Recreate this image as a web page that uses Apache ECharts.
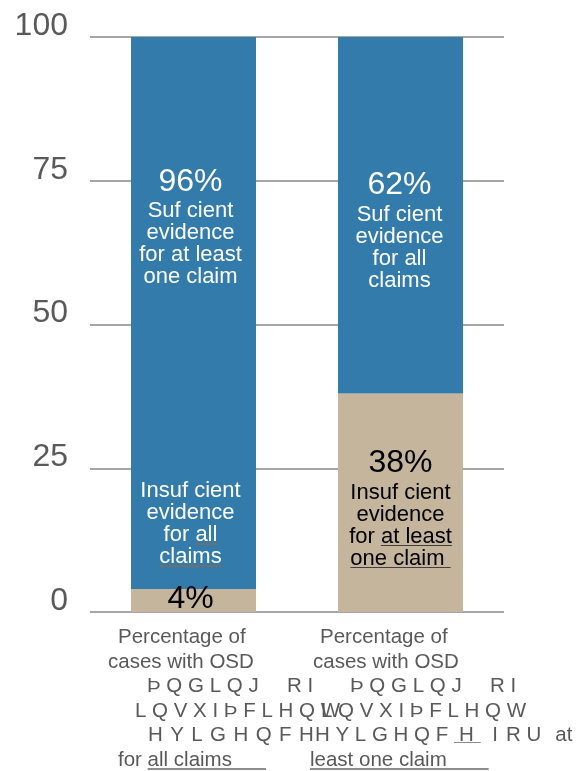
<!DOCTYPE html>
<html>
<head>
<meta charset="utf-8">
<script src="https://cdn.jsdelivr.net/npm/echarts@6/dist/echarts.min.js"></script>
<style>
html,body{margin:0;padding:0;background:#fff;}
#chart{width:582px;height:771px;}
</style>
</head>
<body>
<div id="chart"></div>
<script>
// ---- data ----
const categories = [
  'Percentage of\ncases with OSD\nÞ Q G L Q J     R I\nL Q V X I Þ F L H Q W\nH\u200A Y\u200A L\u200A G\u200A H\u200A Q\u200A F\u200A H\nfor [all claims]',
  'Percentage of\ncases with OSD\nÞ Q G L Q J     R I\nL Q V X I Þ F L H Q W\nH Y L G H Q F {H}  I\u2009\u2009R U \u2009\u2009at\n[least one claim]'
];
const insufficientPct = [4, 38];
const sufficientPct = [96, 62];
const yTicks = [0, 25, 50, 75, 100];
const sufficientText = [
  'Suf cient\nevidence\nfor at least\none claim',
  'Suf cient\nevidence\nfor all\nclaims'
];
const insufficientText = [
  'Insuf cient\nevidence\nfor [all]\n[claims]',
  'Insuf cient\nevidence\nfor [at least]\n[one claim ]'
];

// ---- styling / layout ----
const FONT = '"Liberation Sans", Arial, Helvetica, sans-serif';
const BLUE = '#327BAA';
const TAN = '#C4B59C';
const GRID = '#A6A6A6';
const LH = 24.5;
const xIndent = [[44.5, 34.5, 73.5, 61.5, 74.5, 44.5], [39.5, 32.5, 69.5, 40.5, 34.5, 29.5]];
const ulPad = {'all claims': [0, 34, 0, 0], 'least one claim': [0, 42, 0, 0], 'H': [0, 7, 0, 5]};

function ulGradient(color, a, b) {
  const t = 'rgba(0,0,0,0)';
  return {type: 'linear', x: 0, y: 0, x2: 0, y2: 1, global: false, colorStops: [
    {offset: 0, color: t}, {offset: a, color: t}, {offset: a, color: color},
    {offset: b, color: color}, {offset: b, color: t}, {offset: 1, color: t}
  ]};
}
// [text] = underline below text, {text} = underline at the baseline
function toRich(line, base, ulName, blName) {
  let out = '', last = 0, m;
  const re = /\[([^\]]*)\]|\{([^}]*)\}/g;
  while ((m = re.exec(line))) {
    if (m.index > last) out += '{' + base + '|' + line.slice(last, m.index) + '}';
    const txt = m[1] != null ? m[1] : m[2];
    const which = m[1] != null ? ulName : (blName || ulName);
    const nm = typeof which === 'function' ? which(txt) : which;
    out += '{' + nm + '|' + txt + '}';
    last = re.lastIndex;
  }
  if (last < line.length) out += '{' + base + '|' + line.slice(last) + '}';
  return out;
}

// x-axis rich styles
const xBase = {fontFamily: FONT, fontSize: 20.5, color: '#595959', lineHeight: LH, align: 'left'};
const xRich = {x: xBase};
xIndent.forEach((arr, c) => arr.forEach((v, l) => {
  xRich['s' + c + '_' + l] = {width: v, align: 'left', lineHeight: LH};
}));
const ulKeys = Object.keys(ulPad);
ulKeys.forEach((k, i) => {
  xRich['u' + i] = Object.assign({}, xBase, {
    padding: ulPad[k], height: LH, backgroundColor: ulGradient('#8C8C8C', 0.816, 0.885)
  });
  xRich['b' + i] = Object.assign({}, xBase, {
    padding: ulPad[k], height: LH, backgroundColor: ulGradient('#8C8C8C', 0.745, 0.815)
  });
});

// bar label rich styles
const barRich = {
  w: {fontFamily: FONT, fontSize: 22, color: '#fff', lineHeight: 22},
  wu: {fontFamily: FONT, fontSize: 22, color: '#fff', lineHeight: 22, height: 22,
       backgroundColor: ulGradient('#6E6E6E', 0.87, 0.94)},
  p0: {fontFamily: FONT, fontSize: 32, color: '#fff', lineHeight: 35},
  p1: {fontFamily: FONT, fontSize: 32, color: '#fff', lineHeight: 38},
  k: {fontFamily: FONT, fontSize: 22, color: '#000', lineHeight: 22},
  ku: {fontFamily: FONT, fontSize: 22, color: '#000', lineHeight: 22, height: 22,
       backgroundColor: ulGradient('#404040', 0.87, 0.94)},
  kp0: {fontFamily: FONT, fontSize: 32, color: '#000', lineHeight: 30},
  kp1: {fontFamily: FONT, fontSize: 32, color: '#000', lineHeight: 37},
  gap: {fontFamily: FONT, fontSize: 10, lineHeight: 16}
};

function sufficientLabel(i) {
  return '{p' + i + '|' + sufficientPct[i] + '%}\n' +
    sufficientText[i].split('\n').map(l => toRich(l, 'w', 'wu')).join('\n');
}
function insufficientLabel(i) {
  const txt = insufficientText[i].split('\n').map(l => toRich(l, i === 0 ? 'w' : 'k', i === 0 ? 'wu' : 'ku')).join('\n');
  const num = '{kp' + i + '|' + insufficientPct[i] + '%}';
  return insufficientPct[i] < 10 ? txt + '\n{gap|}\n' + num : num + '\n' + txt;
}

const labelCommon = {show: true, color: '#fff', textBorderWidth: 0, rich: barRich};
const blueLabels = [
  {position: 'insideTop', distance: 128, offset: [-3, 0]},
  {position: 'insideTop', distance: 129, offset: [-1, 0]}
];
const tanLabels = [
  {position: 'insideBottom', distance: -2, offset: [-3, 0]},
  {position: 'insideTop', distance: 51, offset: [0, 0]}
];

const chart = echarts.init(document.getElementById('chart'), null, {renderer: 'canvas'});
chart.setOption({
  animation: false,
  grid: {left: 90, right: 78, top: 37, bottom: 159, containLabel: false, outerBoundsMode: 'none'},
  xAxis: {
    type: 'category',
    data: categories,
    axisLine: {show: false},
    axisTick: {show: false},
    axisLabel: {
      interval: 0,
      margin: 13.5,
      width: 240,
      overflow: 'none',
      lineHeight: LH,
      fontFamily: FONT,
      fontSize: 20.5,
      color: '#595959',
      rich: xRich,
      formatter: (value, idx) => value.split('\n').map((line, l) =>
        '{s' + idx + '_' + l + '|}' +
        toRich(line, 'x', t => 'u' + ulKeys.indexOf(t), t => 'b' + ulKeys.indexOf(t))
      ).join('\n')
    }
  },
  yAxis: {
    type: 'value',
    min: 0, max: 100, interval: 25,
    axisLine: {show: false},
    axisTick: {show: false},
    splitLine: {show: true, lineStyle: {color: GRID, width: 2}},
    axisLabel: {
      margin: 22,
      fontFamily: FONT,
      fontSize: 32,
      color: '#595959',
      lineHeight: 22,
      verticalAlign: 'bottom',
      formatter: v => yTicks.includes(v) ? String(v) : ''
    }
  },
  series: [
    {
      name: 'Insufficient', type: 'bar', stack: 'total', barWidth: 125,
      itemStyle: {color: TAN},
      silent: true,
      data: insufficientPct.map((v, i) => ({
        value: v,
        label: Object.assign({}, labelCommon, tanLabels[i], {formatter: () => insufficientLabel(i)})
      }))
    },
    {
      name: 'Sufficient', type: 'bar', stack: 'total', barWidth: 125,
      itemStyle: {color: BLUE},
      silent: true,
      data: sufficientPct.map((v, i) => ({
        value: v,
        label: Object.assign({}, labelCommon, blueLabels[i], {formatter: () => sufficientLabel(i)})
      }))
    }
  ]
});
</script>
</body>
</html>
